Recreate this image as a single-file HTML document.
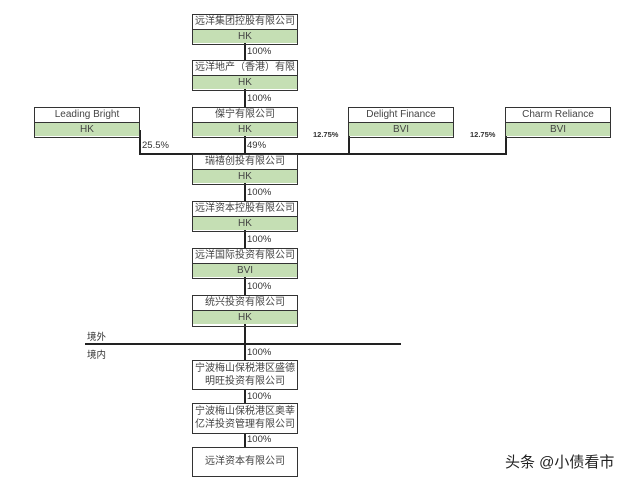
<!DOCTYPE html>
<html><head><meta charset="utf-8"><style>
body{margin:0;width:640px;height:482px;background:#fff;position:relative;font-family:"Liberation Sans","Noto Sans CJK SC",sans-serif;overflow:hidden}
.b{position:absolute;border:1.5px solid #333;box-sizing:border-box;font-size:10px;color:#444;text-align:center}
.b .t{height:14px;line-height:14px;background:#fff;border-bottom:1.5px solid #333}
.b .g{height:13px;line-height:13px;background:#c5dfb4}
.l{position:absolute;background:#222}
.p{position:absolute;font-size:9.5px;color:#333}
</style></head><body>
<div class="l" style="left:244px;top:40px;width:1.5px;height:420px"></div>
<div class="l" style="left:139px;top:153px;width:368px;height:1.5px"></div>
<div class="l" style="left:139px;top:130px;width:1.5px;height:24px"></div>
<div class="l" style="left:348px;top:130px;width:1.5px;height:24px"></div>
<div class="l" style="left:505px;top:130px;width:1.5px;height:24px"></div>
<div class="l" style="left:85px;top:343px;width:316px;height:1.5px"></div>

<div class="b" style="left:192px;top:14px;width:106px;height:31px"><div class="t">远洋集团控股有限公司</div><div class="g">HK</div></div>
<div class="b" style="left:192px;top:60px;width:106px;height:31px"><div class="t">远洋地产（香港）有限</div><div class="g">HK</div></div>
<div class="b" style="left:192px;top:107px;width:106px;height:31px"><div class="t">傑宁有限公司</div><div class="g">HK</div></div>
<div class="b" style="left:34px;top:107px;width:106px;height:31px"><div class="t">Leading Bright</div><div class="g">HK</div></div>
<div class="b" style="left:348px;top:107px;width:106px;height:31px"><div class="t">Delight Finance</div><div class="g">BVI</div></div>
<div class="b" style="left:505px;top:107px;width:106px;height:31px"><div class="t">Charm Reliance</div><div class="g">BVI</div></div>
<div class="b" style="left:192px;top:154px;width:106px;height:31px"><div class="t">瑞禧创投有限公司</div><div class="g">HK</div></div>
<div class="b" style="left:192px;top:201px;width:106px;height:31px"><div class="t">远洋资本控股有限公司</div><div class="g">HK</div></div>
<div class="b" style="left:192px;top:248px;width:106px;height:31px"><div class="t">远洋国际投资有限公司</div><div class="g">BVI</div></div>
<div class="b" style="left:192px;top:295px;width:106px;height:32px"><div class="t">统兴投资有限公司</div><div class="g">HK</div></div>
<div class="b" style="left:192px;top:360px;width:106px;height:30px;background:#fff;line-height:13px;padding-top:1px">宁波梅山保税港区盛德<br>明旺投资有限公司</div>
<div class="b" style="left:192px;top:403px;width:106px;height:31px;background:#fff;line-height:13px;padding-top:1px">宁波梅山保税港区奥莘<br>亿洋投资管理有限公司</div>
<div class="b" style="left:192px;top:447px;width:106px;height:30px;background:#fff;line-height:27px">远洋资本有限公司</div>

<div class="p" style="left:247px;top:46px">100%</div>
<div class="p" style="left:247px;top:93px">100%</div>
<div class="p" style="left:247px;top:140px">49%</div>
<div class="p" style="left:142px;top:140px">25.5%</div>
<div class="p" style="left:313px;top:130px;font-size:7.5px;font-weight:bold">12.75%</div>
<div class="p" style="left:470px;top:130px;font-size:7.5px;font-weight:bold">12.75%</div>
<div class="p" style="left:247px;top:187px">100%</div>
<div class="p" style="left:247px;top:234px">100%</div>
<div class="p" style="left:247px;top:281px">100%</div>
<div class="p" style="left:247px;top:347px">100%</div>
<div class="p" style="left:247px;top:391px">100%</div>
<div class="p" style="left:247px;top:434px">100%</div>
<div class="p" style="left:87px;top:329px">境外</div>
<div class="p" style="left:87px;top:347px">境内</div>
<div style="position:absolute;left:505px;top:451px;font-size:15px;color:#222">头条 @小债看市</div>
</body></html>
